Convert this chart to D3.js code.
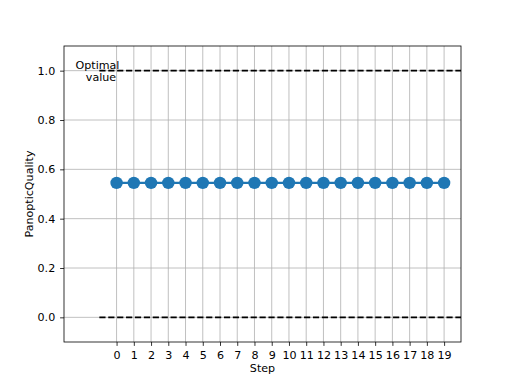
<!DOCTYPE html>
<html><head><meta charset="utf-8">
<script src="https://cdn.jsdelivr.net/npm/d3@7"></script>
<style>body{margin:0;background:#fff}text{font-family:"DejaVu Sans",sans-serif}</style>
</head><body>
<script>
const steps = d3.range(0, 20);
const values = [0.545,0.545,0.545,0.545,0.545,0.545,0.545,0.545,0.545,0.545,0.545,0.545,0.545,0.545,0.545,0.545,0.545,0.545,0.545,0.545];
const yTicks = [0.0,0.2,0.4,0.6,0.8,1.0];
const refLines = [0, 1];
const refRange = [-1, 20];
const annotation = ["Optimal", "value"];

const W=512,H=384, L=64,R=461,T=46,B=342;
const svg=d3.select("body").append("svg").attr("width",W).attr("height",H);
const x=d3.scaleLinear().domain([-3.05,19.98]).range([L,R]);
const y=d3.scaleLinear().domain([-0.1,1.1]).range([B,T]);
const fs=11.1;

const clip=svg.append("clipPath").attr("id","c").append("rect").attr("x",L).attr("y",T).attr("width",R-L).attr("height",B-T);

// grid
const g=svg.append("g");
g.selectAll(".vg").data(steps).join("line").attr("x1",d=>x(d)).attr("x2",d=>x(d)).attr("y1",T).attr("y2",B).attr("stroke","#b0b0b0").attr("stroke-width",0.8);
g.selectAll(".hg").data(yTicks).join("line").attr("x1",L).attr("x2",R).attr("y1",d=>y(d)).attr("y2",d=>y(d)).attr("stroke","#b0b0b0").attr("stroke-width",0.8);

// ref lines
const pg=svg.append("g").attr("clip-path","url(#c)");
pg.selectAll(".ref").data(refLines).join("line").attr("x1",x(refRange[0])).attr("x2",x(refRange[1])).attr("y1",d=>y(d)).attr("y2",d=>y(d)).attr("stroke","#000").attr("stroke-width",1.67).attr("stroke-dasharray","6.2,2.7");

// data line
pg.append("path").datum(steps).attr("fill","none").attr("stroke","#1f77b4").attr("stroke-width",2.1)
  .attr("d",d3.line().x(d=>x(d)).y((d,i)=>y(values[i])));
pg.selectAll(".pt").data(steps).join("circle").attr("cx",d=>x(d)).attr("cy",(d,i)=>y(values[i])).attr("r",6.2).attr("fill","#1f77b4");

// axes
const xa=svg.append("g").attr("transform",`translate(0,${B})`).call(d3.axisBottom(x).tickValues(steps).tickFormat(d3.format("d")).tickSizeOuter(0).tickSize(3.9).tickPadding(4.9));
const ya=svg.append("g").attr("transform",`translate(${L},0)`).call(d3.axisLeft(y).tickValues(yTicks).tickFormat(d3.format(".1f")).tickSizeOuter(0).tickSize(3.9).tickPadding(4.9));
[xa,ya].forEach(a=>{a.select(".domain").remove();a.selectAll("text").attr("font-size",fs).attr("font-family","DejaVu Sans").attr("fill","#000");a.selectAll("line").attr("stroke","#000").attr("stroke-width",0.8);});

svg.append("rect").attr("x",L).attr("y",T).attr("width",R-L).attr("height",B-T).attr("fill","none").attr("stroke","#000").attr("stroke-width",0.8);

// labels
svg.append("text").attr("x",(L+R)/2).attr("y",372).attr("text-anchor","middle").attr("font-size",fs).text("Step");
svg.append("text").attr("transform",`translate(33,${(T+B)/2}) rotate(-90)`).attr("text-anchor","middle").attr("font-size",fs).text("PanopticQuality");

// annotation
svg.append("text").attr("x",97.5).attr("y",69).attr("text-anchor","middle").attr("font-size",fs).text(annotation[0]);
svg.append("text").attr("x",101).attr("y",81).attr("text-anchor","middle").attr("font-size",fs).text(annotation[1]);
</script>
</body></html>
